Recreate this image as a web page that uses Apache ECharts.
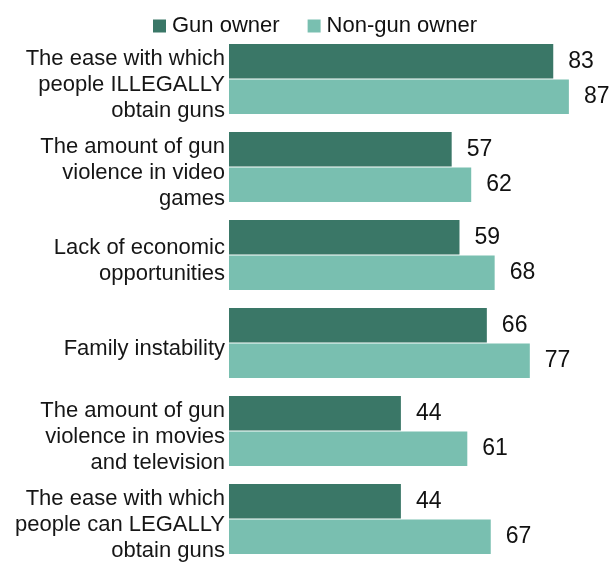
<!DOCTYPE html>
<html>
	<head>
		<meta charset="utf-8">
		<title>Gun owners vs non-gun owners</title>
		<script src="https://cdn.jsdelivr.net/npm/echarts@6/dist/echarts.min.js" type="text/javascript"></script>
		<style type="text/css">
			html,body{margin: 0; padding: 0; background-color: #fff;}
			#main{width: 614px; height: 565px;}
		</style>
	</head>
	<body>
		<div id="main"></div>
		<script type="text/javascript">
			// 数据
			var categories = [
				'The ease with which\npeople ILLEGALLY\nobtain guns',
				'The amount of gun\nviolence in video\ngames',
				'Lack of economic\nopportunities',
				'Family instability',
				'The amount of gun\nviolence in movies\nand television',
				'The ease with which\npeople can LEGALLY\nobtain guns'
			];
			var seriesNames = ['Gun owner', 'Non-gun owner'];
			var gunOwner = [83, 57, 59, 66, 44, 44];
			var nonGunOwner = [87, 62, 68, 77, 61, 67];

			var font = '"Liberation Sans", Arial, sans-serif';
			var myChart = echarts.init(document.getElementById('main'), null, {renderer: 'canvas'});

			// 数值标签
			var valueLabel = { show: true, position: 'right', distance: 15, fontSize: 23, color: '#111', fontFamily: font };

			var option = {
				color: ['#3a7767', '#79bfb0'],
				animation: false,
				textStyle: { fontFamily: font },
				legend: {
					data: seriesNames,
					left: 148,
					top: 10,
					icon: 'rect',
					itemWidth: 13,
					itemHeight: 13,
					itemGap: 28,
					textStyle: { fontSize: 22, color: '#111', fontFamily: font, lineHeight: 22, padding: [0, 0, 0, 1] }
				},
				grid: { left: 229, right: 33.4, top: 35, bottom: 2, containLabel: false },
				xAxis: {
					type: 'value',
					min: 0,
					max: 90,
					show: false
				},
				yAxis: {
					type: 'category',
					data: categories,
					inverse: true,
					axisLine: { show: false },
					axisTick: { show: false },
					axisLabel: {
						interval: 0,
						showMinLabel: true,
						showMaxLabel: true,
						margin: 4,
						align: 'right',
						// 标签整体略向下偏移，加一行很矮的空行
						formatter: function (v) {
							return '{s| }\n' + v.split('\n').map(function (l) { return '{t|' + l + '}'; }).join('\n');
						},
						rich: {
							s: { fontSize: 1, lineHeight: 12 },
							t: { fontSize: 22, lineHeight: 26, color: '#161616', fontFamily: font }
						}
					}
				},
				series: [
					{
						name: seriesNames[0],
						type: 'bar',
						data: gunOwner,
						barCategoryGap: '20.5%',
						barGap: '3%',
						label: valueLabel
					},
					{
						name: seriesNames[1],
						type: 'bar',
						data: nonGunOwner,
						barCategoryGap: '20.5%',
						barGap: '3%',
						label: valueLabel
					}
				]
			};

			myChart.setOption(option);
		</script>
	</body>
</html>
